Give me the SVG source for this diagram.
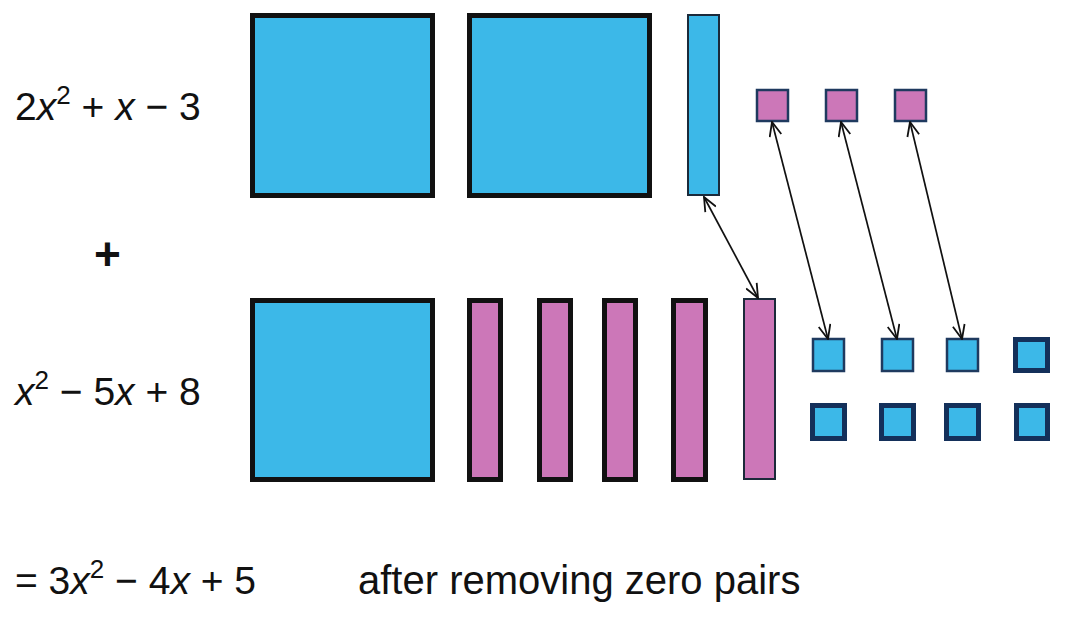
<svg xmlns="http://www.w3.org/2000/svg" width="1088" height="620" viewBox="0 0 1088 620">
<style>
.t{font-family:"Liberation Sans",Arial,sans-serif;font-size:39px;fill:#111}
.i{font-style:italic}
.sup{font-size:26px}
.big{fill:#3CB8E8;stroke:#111;stroke-width:5}
.bar{fill:#CC77B8;stroke:#111;stroke-width:5}
.thinb{fill:#3CB8E8;stroke:#1b2a3a;stroke-width:2}
.thinp{fill:#CC77B8;stroke:#1b2a3a;stroke-width:2}
.sp{fill:#CC77B8;stroke:#1F3A5F;stroke-width:2.5}
.sb{fill:#3CB8E8;stroke:#1F3A5F;stroke-width:2.5}
.sbk{fill:#3CB8E8;stroke:#14305A;stroke-width:5}
.c{stroke:#111;stroke-width:1.7;fill:none;marker-start:url(#ah);marker-end:url(#ah)}
</style>
<defs>
<marker id="ah" viewBox="0 0 16 14" refX="15" refY="7" markerWidth="16" markerHeight="14" markerUnits="userSpaceOnUse" orient="auto-start-reverse">
<path d="M1,1 L15,7 L1,13" fill="none" stroke="#111" stroke-width="1.8"/>
</marker>
</defs>
<rect width="1088" height="620" fill="#fff"/>
<g id="labels">
<text class="t" x="15" y="120"><tspan>2</tspan><tspan class="i">x</tspan><tspan class="sup" dy="-16">2</tspan><tspan dy="16"> + </tspan><tspan class="i">x</tspan><tspan> − 3</tspan></text>
<text class="t" x="94" y="270" style="font-size:46px;font-weight:bold">+</text>
<text class="t" x="15" y="405"><tspan class="i">x</tspan><tspan class="sup" dy="-16">2</tspan><tspan dy="16"> − 5</tspan><tspan class="i">x</tspan><tspan> + 8</tspan></text>
<text class="t" x="15" y="594"><tspan>= 3</tspan><tspan class="i">x</tspan><tspan class="sup" dy="-16">2</tspan><tspan dy="16"> − 4</tspan><tspan class="i">x</tspan><tspan> + 5</tspan></text>
<text class="t" x="358" y="594" style="font-size:40px">after removing zero pairs</text>
</g>
<g id="top-row">
<rect id="x2a" class="big" x="252.5" y="15.5" width="180" height="180"/>
<rect id="x2b" class="big" x="469.5" y="15.5" width="180" height="180"/>
<rect id="xpos" class="thinb" x="688" y="15" width="31" height="180"/>
<rect id="n1" class="sp" x="757" y="90" width="31" height="31"/>
<rect id="n2" class="sp" x="826" y="90" width="31" height="31"/>
<rect id="n3" class="sp" x="895" y="90" width="31" height="31"/>
</g>
<g id="bottom-row">
<rect id="x2c" class="big" x="252.5" y="300.5" width="180" height="179"/>
<rect id="mx1" class="bar" x="469.5" y="300.5" width="31" height="179"/>
<rect id="mx2" class="bar" x="539.5" y="300.5" width="31" height="179"/>
<rect id="mx3" class="bar" x="604.5" y="300.5" width="31" height="179"/>
<rect id="mx4" class="bar" x="673.5" y="300.5" width="32" height="179"/>
<rect id="mx5" class="thinp" x="744" y="299" width="31" height="180"/>
<rect id="p1" class="sb" x="813" y="339" width="31" height="32"/>
<rect id="p2" class="sb" x="882" y="339" width="31" height="32"/>
<rect id="p3" class="sb" x="947" y="339" width="31" height="32"/>
<rect id="p4" class="sbk" x="1015.5" y="339.5" width="32" height="31"/>
<rect id="p5" class="sbk" x="812.5" y="405.5" width="32" height="33"/>
<rect id="p6" class="sbk" x="881.5" y="405.5" width="32" height="33"/>
<rect id="p7" class="sbk" x="946.5" y="405.5" width="32" height="33"/>
<rect id="p8" class="sbk" x="1016.5" y="405.5" width="31" height="33"/>
</g>
<g id="connectors">
<line class="c" x1="704" y1="197" x2="758" y2="298"/>
<line class="c" x1="772" y1="122" x2="828" y2="339"/>
<line class="c" x1="841" y1="122" x2="897" y2="339"/>
<line class="c" x1="910" y1="122" x2="962" y2="339"/>
</g>
</svg>
